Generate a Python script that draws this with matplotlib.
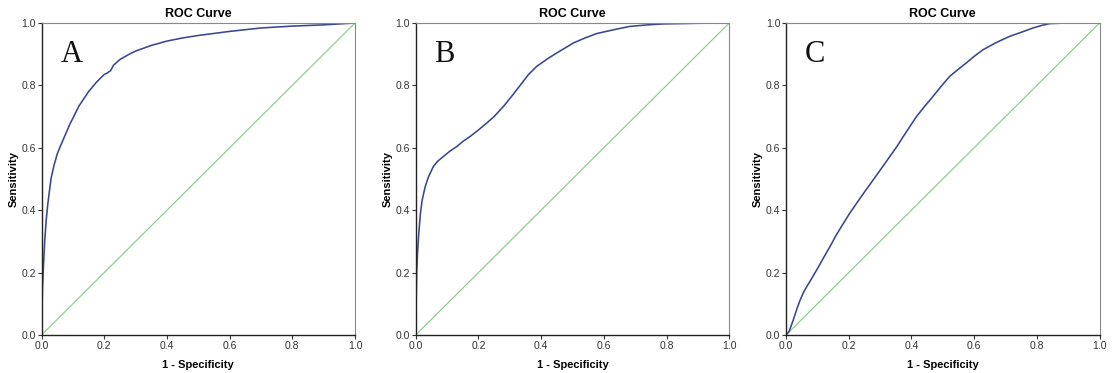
import numpy as np
import matplotlib.pyplot as plt

# ROC curves (1 - specificity, sensitivity)
a_fpr = [0, 0.001, 0.003, 0.006, 0.01, 0.015, 0.02, 0.025, 0.03, 0.04, 0.05, 0.06, 0.075, 0.09, 0.1,
         0.12, 0.15, 0.175, 0.2, 0.21, 0.22, 0.23, 0.25, 0.28, 0.3, 0.35, 0.4, 0.45, 0.5, 0.6, 0.7, 0.8, 0.9, 1.0]
a_tpr = [0, 0.05, 0.15, 0.22, 0.3, 0.37, 0.42, 0.46, 0.5, 0.545, 0.58, 0.605, 0.64, 0.675, 0.695,
         0.735, 0.78, 0.81, 0.835, 0.84, 0.847, 0.865, 0.883, 0.9, 0.91, 0.928, 0.942, 0.952, 0.96, 0.973, 0.984, 0.99, 0.994, 1.0]

b_fpr = [0, 0.001, 0.003, 0.006, 0.01, 0.015, 0.02, 0.03, 0.04, 0.056, 0.07, 0.088, 0.11, 0.131, 0.15, 0.173,
         0.2, 0.226, 0.25, 0.28, 0.31, 0.333, 0.36, 0.386, 0.42, 0.45, 0.48, 0.503, 0.54, 0.577, 0.63, 0.683,
         0.74, 0.79, 0.9, 1.0]
b_tpr = [0, 0.08, 0.2, 0.27, 0.33, 0.39, 0.43, 0.475, 0.505, 0.54, 0.557, 0.572, 0.59, 0.604, 0.62, 0.636,
         0.657, 0.679, 0.7, 0.733, 0.77, 0.8, 0.835, 0.861, 0.885, 0.904, 0.922, 0.936, 0.952, 0.966, 0.978, 0.989,
         0.994, 0.997, 0.999, 1.0]

c_fpr = [0, 0.01, 0.023, 0.035, 0.045, 0.055, 0.066, 0.08, 0.098, 0.12, 0.14, 0.16, 0.183, 0.205, 0.225,
         0.25, 0.278, 0.305, 0.331, 0.353, 0.374, 0.395, 0.416, 0.44, 0.469, 0.495, 0.522, 0.55, 0.575, 0.6,
         0.628, 0.67, 0.713, 0.75, 0.788, 0.815, 0.841, 0.9, 1.0]
c_tpr = [0, 0.012, 0.048, 0.085, 0.112, 0.135, 0.155, 0.178, 0.209, 0.248, 0.283, 0.32, 0.358, 0.393, 0.422,
         0.458, 0.497, 0.535, 0.572, 0.603, 0.636, 0.668, 0.70, 0.73, 0.765, 0.797, 0.829, 0.852, 0.872, 0.893,
         0.914, 0.937, 0.957, 0.97, 0.984, 0.992, 0.998, 1.0, 1.0]

panels = ["A", "B", "C"]
curves = [(a_fpr, a_tpr), (b_fpr, b_tpr), (c_fpr, c_tpr)]
ticks = [0.0, 0.2, 0.4, 0.6, 0.8, 1.0]

plt.rcParams['font.family'] = ['Liberation Sans', 'DejaVu Sans']

fig = plt.figure(figsize=(11.14, 3.73), dpi=100)
lefts = [0.0373, 0.3732, 0.7056]

for left, letter, (fx, ty) in zip(lefts, panels, curves):
    ax = fig.add_axes([left, 0.1019, 0.2814, 0.8365])
    ax.plot([0, 1], [0, 1], color='#8fcf8f', lw=0.9)
    ax.plot(fx, ty, color='#3a4690', lw=1.15)
    ax.set_xlim(0, 1)
    ax.set_ylim(0, 1)
    ax.set_xticks(ticks)
    ax.set_yticks(ticks)
    ax.set_xticklabels(["%.1f" % t for t in ticks])
    ax.set_yticklabels(["%.1f" % t for t in ticks])
    ax.tick_params(direction='out', length=3, width=0.8, labelsize=7.5, colors='#333333', pad=1)
    for s in ['top', 'right']:
        ax.spines[s].set_color('#888888')
        ax.spines[s].set_linewidth(0.8)
    for s in ['left', 'bottom']:
        ax.spines[s].set_color('#222222')
        ax.spines[s].set_linewidth(1.0)
    ax.set_title("ROC Curve", fontsize=9, fontweight='bold', pad=4)
    ax.set_xlabel("1 - Specificity", fontsize=8, fontweight='bold', labelpad=7)
    ax.set_ylabel("Sensitivity", fontsize=8, fontweight='bold', labelpad=2)
    ax.text(0.06, 0.875, letter, fontsize=22, family='Liberation Serif',
            ha='left', va='baseline', color='#111111')

fig.savefig("out.png", dpi=100)
